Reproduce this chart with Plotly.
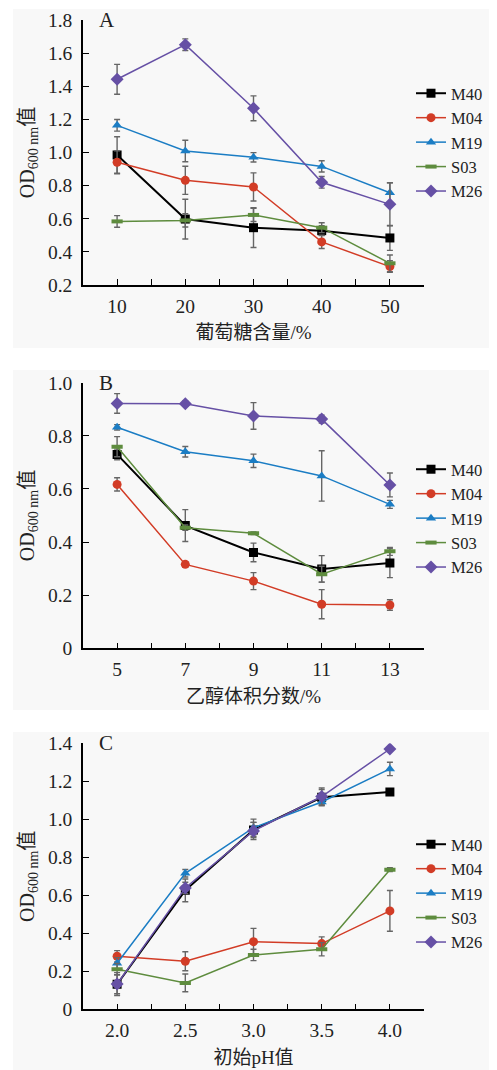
import plotly.graph_objects as go

series = ["M40", "M04", "M19", "S03", "M26"]
colors = {"M40": "#000000", "M04": "#d23c26", "M19": "#1b7dc4", "S03": "#5e8c3e", "M26": "#6650a5"}
symbols = {"M40": "square", "M04": "circle", "M19": "triangle-up", "S03": "line-ew-open", "M26": "diamond"}

# Panel A: glucose content (%)
x_a = [10, 20, 30, 40, 50]
a_vals = {
    "M40": [0.985, 0.598, 0.546, 0.528, 0.484],
    "M04": [0.941, 0.832, 0.792, 0.460, 0.311],
    "M19": [1.164, 1.009, 0.971, 0.916, 0.757],
    "S03": [0.584, 0.590, 0.623, 0.546, 0.331],
    "M26": [1.442, 1.651, 1.267, 0.820, 0.687],
}
a_err = {
    "M40": [0.11, 0.12, 0.12, 0.03, 0.075],
    "M04": [0.07, 0.085, 0.085, 0.04, 0.035],
    "M19": [0.035, 0.065, 0.028, 0.034, 0.06],
    "S03": [0.035, 0.04, 0.04, 0.03, 0.05],
    "M26": [0.09, 0.035, 0.075, 0.035, 0.13],
}

# Panel B: ethanol volume fraction (%)
x_b = [5, 7, 9, 11, 13]
b_vals = {
    "M40": [0.730, 0.462, 0.361, 0.299, 0.321],
    "M04": [0.617, 0.316, 0.253, 0.166, 0.163],
    "M19": [0.832, 0.740, 0.706, 0.649, 0.542],
    "S03": [0.759, 0.454, 0.433, 0.279, 0.365],
    "M26": [0.922, 0.921, 0.875, 0.863, 0.615],
}
b_err = {
    "M40": [0.02, 0.06, 0.035, 0.05, 0.055],
    "M04": [0.025, 0.01, 0.032, 0.055, 0.02],
    "M19": [0.01, 0.02, 0.025, 0.095, 0.015],
    "S03": [0.038, 0.01, 0.005, 0.03, 0.015],
    "M26": [0.037, 0.01, 0.05, 0.015, 0.045],
}

# Panel C: initial pH
x_c = [2.0, 2.5, 3.0, 3.5, 4.0]
c_vals = {
    "M40": [0.132, 0.626, 0.944, 1.116, 1.144],
    "M04": [0.279, 0.253, 0.356, 0.346, 0.518],
    "M19": [0.242, 0.716, 0.956, 1.091, 1.265],
    "S03": [0.211, 0.139, 0.286, 0.316, 0.735],
    "M26": [0.133, 0.639, 0.939, 1.120, 1.370],
}
c_err = {
    "M40": [0.05, 0.06, 0.04, 0.04, 0.01],
    "M04": [0.03, 0.05, 0.07, 0.035, 0.107],
    "M19": [0.03, 0.02, 0.045, 0.02, 0.035],
    "S03": [0.03, 0.047, 0.03, 0.035, 0.01],
    "M26": [0.06, 0.03, 0.045, 0.045, 0.01],
}

x_titles = ["葡萄糖含量/%", "乙醇体积分数/%", "初始pH值"]
panel_letters = ["A", "B", "C"]
xticks_a = ["10", "20", "30", "40", "50"]
xticks_b = ["5", "7", "9", "11", "13"]
xticks_c = ["2.0", "2.5", "3.0", "3.5", "4.0"]
yticks_a = ["0.2", "0.4", "0.6", "0.8", "1.0", "1.2", "1.4", "1.6", "1.8"]
yticks_b = ["0", "0.2", "0.4", "0.6", "0.8", "1.0"]
yticks_c = ["0", "0.2", "0.4", "0.6", "0.8", "1.0", "1.2", "1.4"]

# The page body has an 8px margin; lay the figure out in window coordinates
OFF = 8
W, H = 497 - OFF, 1070 - OFF
SERIF = "Liberation Serif, Times New Roman, Noto Sans CJK SC, serif"
fig = go.Figure()

panels = [
    (x_a, a_vals, a_err, ""),
    (x_b, b_vals, b_err, "2"),
    (x_c, c_vals, c_err, "3"),
]
for px_, vals, errs, sfx in panels:
    for s in series:
        sym = symbols[s]
        mk = dict(symbol=sym, size=9, color=colors[s], line=dict(width=0, color=colors[s]))
        if s == "S03":
            mk = dict(symbol=sym, size=8, color=colors[s], line=dict(width=4, color=colors[s]))
        if s == "M26":
            mk["size"] = 10
        fig.add_trace(go.Scatter(
            x=px_, y=vals[s], name=s, mode="lines+markers",
            line=dict(color=colors[s], width=2 if s == "M40" else 1.5),
            marker=mk,
            error_y=dict(type="data", array=errs[s], color="#666666", thickness=1.4, width=3),
            xaxis="x" + sfx, yaxis="y" + sfx,
            legend="legend" + sfx,
        ))

def px(p):
    return (p - OFF) / W

def py(p):
    return 1 - (p - OFF) / H

x_dom = [px(83), px(424)]
y_doms = [(20, 285), (382.7, 648.3), (743.3, 1009.3)]
x_ranges = [[5, 55], [4, 14], [1.75, 4.25]]
x_tickvals = [
    [5 + 5 * i for i in range(11)],
    [4 + i for i in range(11)],
    [1.75 + 0.25 * i for i in range(11)],
]
x_labels = [xticks_a, xticks_b, xticks_c]
x_ticktext = []
for i in range(3):
    tt = []
    for v in x_tickvals[i]:
        lab = ""
        for l in x_labels[i]:
            if abs(float(l) - v) < 1e-9:
                lab = l
        tt.append(lab)
    x_ticktext.append(tt)
y_ticktexts = [yticks_a, yticks_b, yticks_c]
y_ranges = [[0.2, 1.8], [0, 1.0], [0, 1.4]]

axis_common = dict(
    showgrid=False, zeroline=False, showline=True, linecolor="#000000", linewidth=1.5,
    ticks="inside", ticklen=6, tickwidth=1.3, tickcolor="#000000",
    tickfont=dict(family=SERIF, size=19.5, color="#222222"),
    automargin=False,
)
legend_top = [76, 452, 827]
bg_rects = [(9, 348), (370, 710), (732, 1070)]
shapes = []
annotations = []
for i in range(3):
    sfx = "" if i == 0 else str(i + 1)
    top, bot = y_doms[i]
    yvals = [float(t) for t in y_ticktexts[i]]
    fig.update_layout(**{
        "xaxis" + sfx: dict(
            axis_common, domain=x_dom, range=x_ranges[i], anchor="y" + sfx,
            tickmode="array", tickvals=x_tickvals[i], ticktext=x_ticktext[i],
            ticklabelstandoff=3,
            title=dict(text=x_titles[i], font=dict(family=SERIF, size=19, color="#222222"), standoff=10),
        ),
        "yaxis" + sfx: dict(
            axis_common, domain=[py(bot), py(top)], range=y_ranges[i], anchor="x" + sfx,
            tickmode="array", tickvals=yvals, ticktext=y_ticktexts[i],
            ticklabelstandoff=5,
            title=dict(text="OD<sub>600 nm</sub>值", font=dict(family=SERIF, size=20, color="#222222"), standoff=8),
        ),
        "legend" + sfx: dict(
            x=px(411), xanchor="left", y=py(legend_top[i]), yanchor="top",
            font=dict(family=SERIF, size=16.5, color="#222222"),
            bgcolor="rgba(0,0,0,0)", tracegroupgap=0, itemwidth=30,
        ),
    })
    t0, t1 = bg_rects[i]
    shapes.append(dict(type="rect", xref="paper", yref="paper", x0=px(13), x1=px(494),
                       y0=py(t1), y1=py(t0), fillcolor="#f8f8f8", line=dict(width=0), layer="below"))
    annotations.append(dict(text=panel_letters[i], xref="paper", yref="paper",
                            x=px(97), y=py(top), xanchor="left", yanchor="middle",
                            showarrow=False, font=dict(family=SERIF, size=21, color="#222222")))

fig.update_layout(
    width=W, height=H, margin=dict(l=0, r=0, t=0, b=0, pad=0, autoexpand=False),
    paper_bgcolor="#ffffff", plot_bgcolor="rgba(0,0,0,0)",
    shapes=shapes, annotations=annotations, showlegend=True,
)
fig.write_html("out.html")
